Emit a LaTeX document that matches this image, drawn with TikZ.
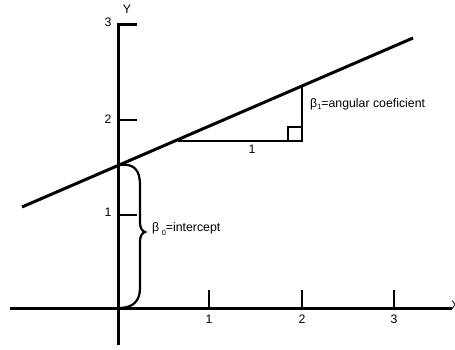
\documentclass[tikz,border=0pt]{standalone}
\usepackage{fontspec}
\setmainfont{Liberation Sans}
\begin{document}
\begin{tikzpicture}[x=1pt,y=-1pt,
  axis/.style={line width=3pt},
  thin line/.style={line width=2.3pt},
  lbl/.style={inner sep=0pt,font=\fontsize{12.3}{14}\selectfont}]
\useasboundingbox (0,0) rectangle (455,349);
% axes
\coordinate (xl) at (10,308);
\coordinate (xr) at (452,308);
\coordinate (yb) at (118,345);
\coordinate (yt) at (118,24);
\draw[axis] (xl) -- (xr);
\draw[axis] (yb) -- (yt) -- (137,24);
% x ticks
\foreach \n/\x in {1/209,2/302,3/394}{
  \coordinate (xt\n) at (\x,290);
  \coordinate (xb\n) at (\x,308);
  \draw[thin line] (xb\n) -- (xt\n);
  \node[lbl] (xlab\n) at (\x,319) {\n};
}
% y ticks
\foreach \n/\y in {1/215,2/120}{
  \coordinate (yl\n) at (118,\y);
  \coordinate (yr\n) at (137,\y);
  \draw[thin line] (yl\n) -- (yr\n);
}
\node[lbl] (ylab1) at (108,212) {1};
\node[lbl] (ylab2) at (108,119) {2};
\node[lbl] (ylab3) at (108,22) {3};
\node[lbl] (ylabY) at (127,9) {Y};
\node[lbl,anchor=west] (xlabX) at (451,305) {X};
% regression line
\coordinate (ra) at (22,207);
\coordinate (rb) at (413,38);
\draw[axis] (ra) -- (rb);
% triangle
\coordinate (ta) at (178,141);
\coordinate (tb) at (302,141);
\coordinate (tc) at (302,86);
\draw[thin line] (ta) -- (tb) -- (tc);
\draw[thin line] (288,141) -- (288,127) -- (302,127);
\node[lbl] (one) at (252,149) {1};
\node[lbl,anchor=west] (b1) at (310,104) {β\raisebox{-0.4ex}{\fontsize{7.5}{8}\selectfont 1}=angular coeficient};
% brace
\coordinate (bt) at (119,165);
\coordinate (bb) at (119,308);
\draw[line width=2.2pt,line cap=round]
  (bt) .. controls (134,163) and (140,170) .. (140,185)
  -- (140,222) .. controls (140,228) and (142,231) .. (145,232)
  .. controls (142,233) and (140,236) .. (140,242)
  -- (140,288) .. controls (140,301) and (133,308) .. (bb);
\node[lbl,anchor=west] (b0) at (152,229) {β\hspace{2.5pt}\raisebox{-0.5ex}{\fontsize{7.5}{8}\selectfont 0}=intercept};
\end{tikzpicture}
\end{document}
